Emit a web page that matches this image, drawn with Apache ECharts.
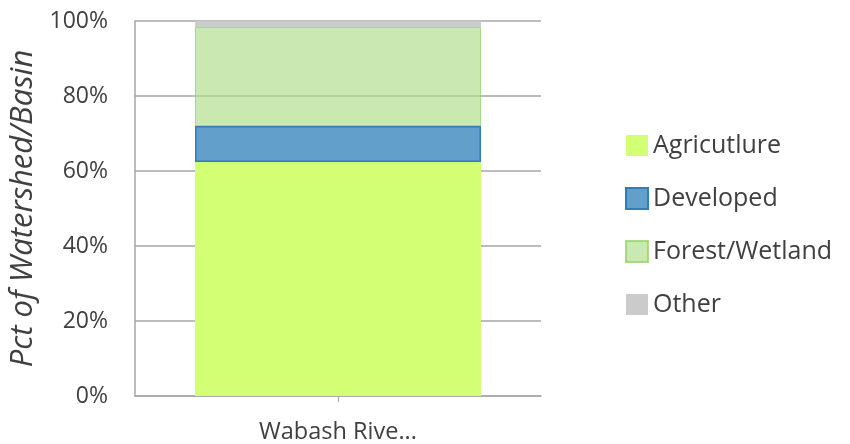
<!DOCTYPE html>
<html>
<head>
<meta charset="utf-8">
<script src="https://cdn.jsdelivr.net/npm/echarts@6/dist/echarts.min.js"></script>
<style>
html,body{margin:0;padding:0;background:#fff;}
#chart{width:850px;height:444px;}
</style>
</head>
<body>
<div id="chart"></div>
<script>
var categories = ['Wabash Rive...'];
var seriesNames = ['Agricutlure', 'Developed', 'Forest/Wetland', 'Other'];
var agriculture = [62.4];
var developed = [9.6];
var forestWetland = [26.4];
var other = [1.6];
var yTicks = [0, 20, 40, 60, 80, 100];

var FONT = 'Open Sans';
var chart = echarts.init(document.getElementById('chart'));
var styles = [
  {color: '#d2ff73', borderColor: '#d2ff73', borderWidth: 0},
  {color: '#62a0cb', borderColor: '#2f7dbb', borderWidth: 1.5},
  {color: 'rgba(176,222,140,0.68)', borderColor: 'rgba(150,210,110,0.8)', borderWidth: 1},
  {color: '#cbcbcb', borderColor: '#cbcbcb', borderWidth: 0}
];
var dataArr = [agriculture, developed, forestWetland, other];
var series = seriesNames.map(function (n, i) {
  return {
    name: n, type: 'bar', stack: 'total', barWidth: 286,
    data: dataArr[i], itemStyle: styles[i], z: 3
  };
});
chart.setOption({
  animation: false,
  backgroundColor: '#fff',
  grid: {left: 135, right: 309, top: 21, bottom: 47},
  legend: {
    orient: 'vertical', left: 620, top: 128,
    itemWidth: 22, itemHeight: 21, itemGap: 28,
    icon: 'rect',
    data: seriesNames,
    textStyle: {fontFamily: FONT, fontSize: 25, color: '#404040'}
  },
  xAxis: {
    type: 'category', data: categories,
    axisLine: {lineStyle: {color: '#a6a6a6', width: 1.5}},
    axisTick: {show: true, alignWithLabel: true, length: 6, lineStyle: {color: '#a6a6a6'}},
    axisLabel: {fontFamily: FONT, fontSize: 23.5, color: '#404040', margin: 24}
  },
  yAxis: {
    type: 'value', min: yTicks[0], max: yTicks[yTicks.length - 1], interval: 20,
    name: 'Pct of Watershed/Basin', nameLocation: 'middle', nameGap: 96,
    nameTextStyle: {fontFamily: FONT, fontSize: 31, fontStyle: 'italic', color: '#404040'},
    axisLine: {show: true, lineStyle: {color: '#a6a6a6', width: 1.5}},
    axisTick: {show: false},
    splitLine: {lineStyle: {color: '#a6a6a6', width: 1.5}},
    axisLabel: {fontFamily: FONT, fontSize: 23, color: '#404040', margin: 27,
      formatter: function (v) { return v + '%'; }}
  },
  series: series
});
</script>
</body>
</html>
